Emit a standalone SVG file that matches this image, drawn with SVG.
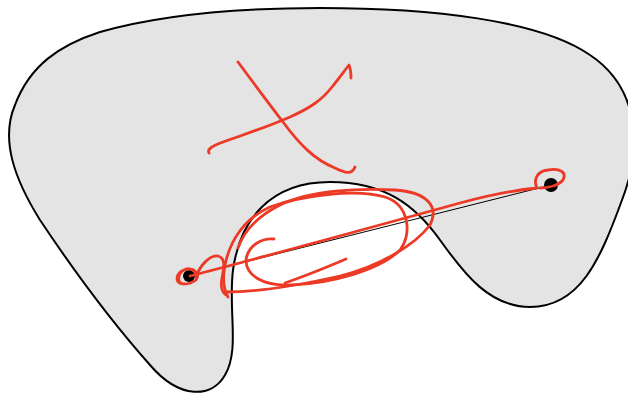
<svg xmlns="http://www.w3.org/2000/svg" width="628" height="395" viewBox="0 0 628 395">
<style>
.red{fill:none;stroke:#ec3a26;stroke-width:2.8;stroke-linecap:round;stroke-linejoin:round}
</style>
<rect width="628" height="395" fill="#ffffff"/>
<g id="region">
<path d="M320 8 C430 8 540 20 590 55 C635 85 645 140 622 200 C600 260 580 307 530 307 C490 307 465 275 440 240 C415 205 385 182 330 182 C270 182 240 220 233 270 C228 310 240 350 225 375 C212 398 180 400 150 365 C110 320 70 265 40 220 C15 180 0 140 15 105 C30 65 60 45 100 32 C170 12 250 8 320 8 Z" fill="#e4e4e4" stroke="#000" stroke-width="2"/>
</g>
<g id="connectors">
<line x1="189" y1="276" x2="551" y2="185" stroke="#000" stroke-width="1"/>
</g>
<g id="dots">
<circle cx="189" cy="276" r="6" fill="#000"/>
<circle cx="551" cy="185" r="7" fill="#000"/>
</g>
<g id="scribbles">
<path class="red" d="M238 62 C255 85 270 105 283 122 C300 145 315 160 335 168 C345 173 352 175 355 167"/>
<path class="red" d="M209 153 C207 149 212 146 223 142 C245 134 265 128 290 117 C310 108 322 100 332 87 C340 77 345 70 349 65 C351 70 351 74 351 78"/>
<path class="red" d="M190 276 C260 258 380 225 460 203 C490 195 515 190 537 188 C533 180 537 171 548 170 C560 168 567 172 563 180 C558 186 547 188 540 188"/>
<path class="red" d="M195 272 C190 266 178 270 177 278 C176 285 188 286 196 280 C200 274 195 268 186 269 C178 272 176 282 183 284"/>
<path class="red" d="M196 277 C200 265 210 255 218 256 C226 258 224 268 222 278 C220 288 222 292 226 295"/>
<path class="red" d="M274 239 C262 238 248 245 246 260 C246 275 262 286 290 285 C330 284 380 270 400 250 C412 235 410 205 385 197 C355 188 300 196 270 207 C245 218 230 240 225 265 C222 280 224 290 228 297"/>
<path class="red" d="M238 248 C245 228 260 215 280 205 C310 190 360 188 395 190 C425 192 440 205 430 225 C415 245 380 266 340 276 C300 285 255 292 226 292"/>
<path class="red" d="M346 259 C325 268 305 276 285 283"/>
</g>
</svg>
